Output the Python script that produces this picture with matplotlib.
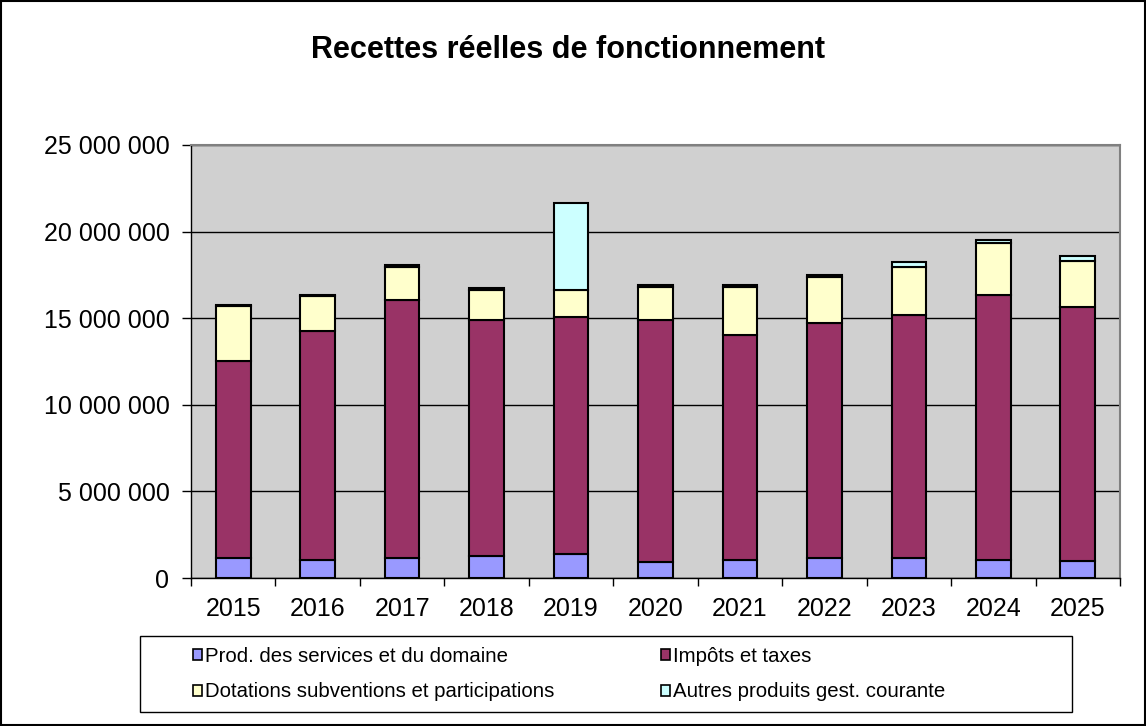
import matplotlib.pyplot as plt
import matplotlib.patches as mpatches
from matplotlib.ticker import FuncFormatter, FixedLocator
import numpy as np

plt.rcParams['font.family'] = ['Liberation Sans', 'DejaVu Sans']

# Données (en euros)
annees = ['2015', '2016', '2017', '2018', '2019', '2020', '2021', '2022', '2023', '2024', '2025']
prod_services = [1.15e6, 1.04e6, 1.15e6, 1.29e6, 1.37e6, 0.94e6, 1.02e6, 1.13e6, 1.13e6, 1.06e6, 1.00e6]
impots_taxes = [11.38e6, 13.22e6, 14.90e6, 13.61e6, 13.72e6, 13.96e6, 13.01e6, 13.57e6, 14.05e6, 15.28e6, 14.66e6]
dotations = [3.19e6, 2.02e6, 1.93e6, 1.75e6, 1.54e6, 1.93e6, 2.79e6, 2.66e6, 2.76e6, 2.98e6, 2.66e6]
autres_produits = [0.06e6, 0.06e6, 0.09e6, 0.07e6, 5.04e6, 0.09e6, 0.10e6, 0.13e6, 0.29e6, 0.19e6, 0.27e6]

series = [
    ('Prod. des services et du domaine', prod_services, '#9999FF'),
    ('Impôts et taxes', impots_taxes, '#993366'),
    ('Dotations subventions et participations', dotations, '#FFFFCC'),
    ('Autres produits gest. courante', autres_produits, '#CCFFFF'),
]

fig = plt.figure(figsize=(11.46, 7.26), dpi=100)
ax = fig.add_axes([191 / 1146, 148 / 726, 929 / 1146, 433 / 726])
ax.set_facecolor('#D0D0D0')

x = np.arange(len(annees))
bas = np.zeros(len(annees))
barres = []
for nom, valeurs, couleur in series:
    b = ax.bar(x, valeurs, 0.41, bottom=bas, color=couleur, edgecolor='black',
               linewidth=1.5, label=nom, zorder=3)
    barres.append(b)
    bas += np.array(valeurs)

ax.set_xlim(-0.5, len(annees) - 0.5)
ax.set_ylim(0, 25e6)
ax.set_yticks(np.arange(0, 25e6 + 1, 5e6))
ax.yaxis.set_major_formatter(FuncFormatter(lambda v, p: f'{int(v):,}'.replace(',', ' ')))
ax.yaxis.grid(True, color='black', linewidth=1, zorder=1)

ax.set_xticks(x)
ax.set_xticklabels(annees)
ax.tick_params(axis='x', which='major', length=0, pad=14, labelsize=18)
ax.xaxis.set_minor_locator(FixedLocator(np.arange(-0.5, len(annees), 1)))
ax.tick_params(axis='x', which='minor', length=6, direction='out', width=1)
ax.tick_params(axis='y', length=6.5, direction='out', width=1, labelsize=18, pad=9)

for cote in ['top', 'right']:
    ax.spines[cote].set_color('#808080')
    ax.spines[cote].set_linewidth(1.5)
for cote in ['left', 'bottom']:
    ax.spines[cote].set_color('black')
    ax.spines[cote].set_linewidth(1)

fig.text(568 / 1146, 1 - 50 / 726, 'Recettes réelles de fonctionnement',
         ha='center', va='center', fontsize=22, fontweight='bold')

# Légende (ordre par lignes), cadre dessiné à part
fig.patches.append(mpatches.Rectangle((140 / 1146, 14 / 726), 932 / 1146, 76 / 726,
                                      transform=fig.transFigure, fill=False,
                                      edgecolor='black', linewidth=1))
ordre = [0, 2, 1, 3]
poignees = [barres[i] for i in ordre]
noms = [series[i][0] for i in ordre]
leg = fig.legend(poignees, noms, ncol=2, loc='upper left',
                 bbox_to_anchor=(193 / 1146, 1 - 647 / 726),
                 fontsize=14.7, frameon=False, borderpad=0, borderaxespad=0,
                 handlelength=0.45, handleheight=0.45, handletextpad=0.15,
                 labelspacing=0.8, columnspacing=5.2)
for h in leg.legend_handles:
    h.set_linewidth(1.2)

# Cadre de la figure
fig.patches.append(mpatches.Rectangle((0.001, 0.001), 0.998, 0.997, transform=fig.transFigure,
                                      fill=False, edgecolor='black', linewidth=1.5))

fig.savefig('out.png', dpi=100)
